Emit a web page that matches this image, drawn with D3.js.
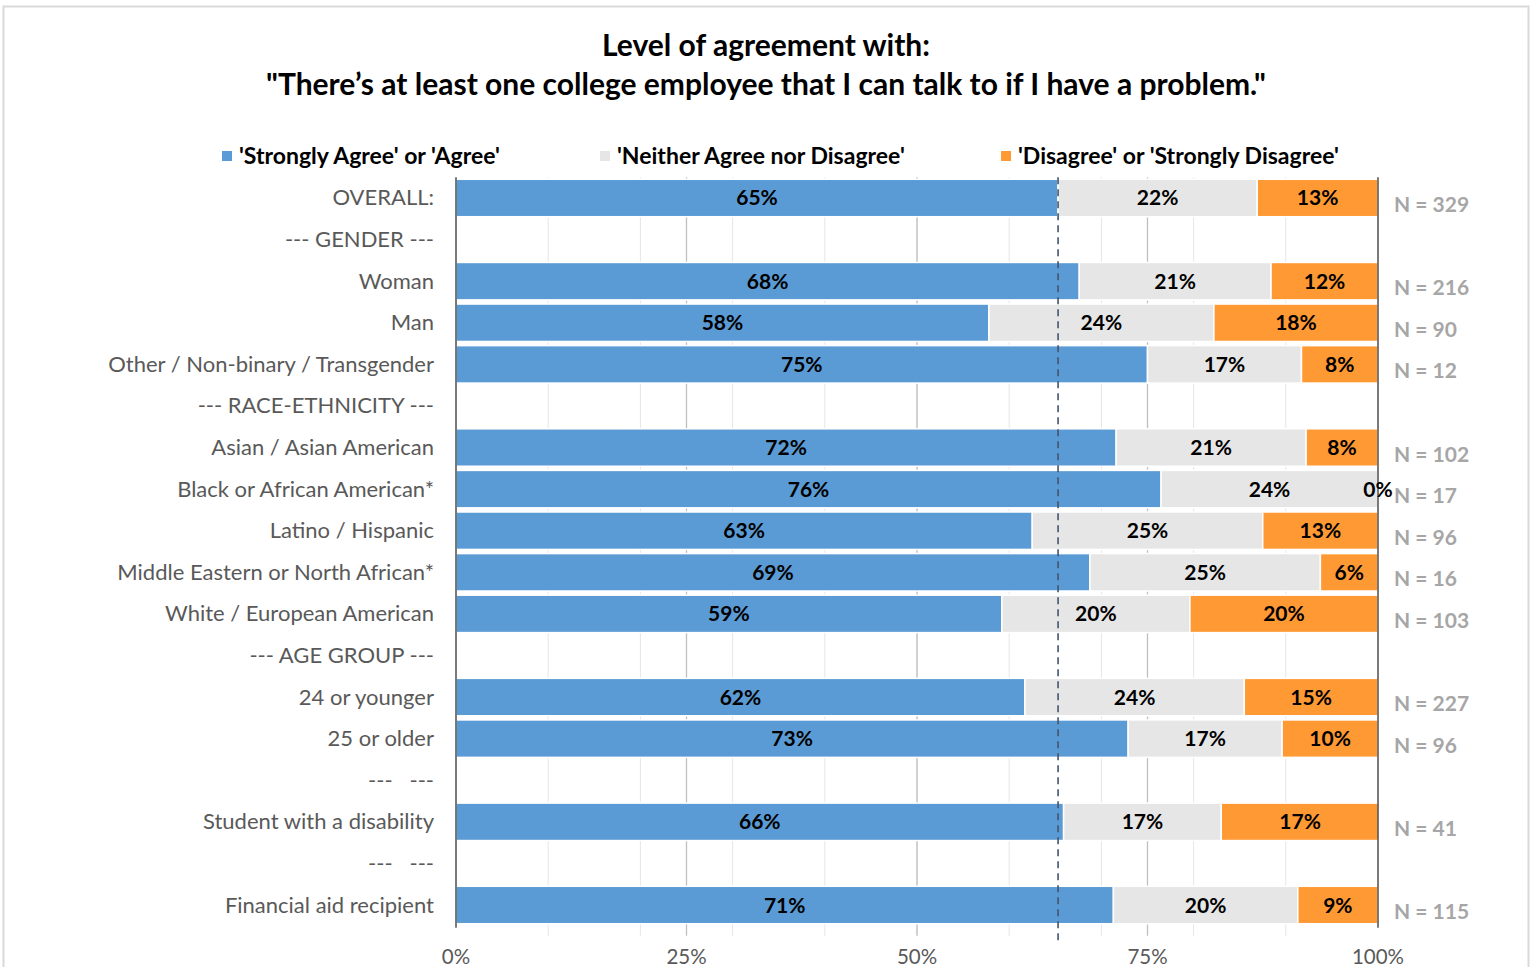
<!DOCTYPE html>
<html><head><meta charset="utf-8">
<script src="https://cdn.jsdelivr.net/npm/d3@7"></script>
<style>html,body{margin:0;padding:0;background:#fff;overflow:hidden}</style>
</head><body>
<svg id="c" width="1536" height="967"></svg>
<script>
const categories = ["OVERALL:","--- GENDER ---","Woman","Man","Other / Non-binary / Transgender","--- RACE-ETHNICITY ---","Asian / Asian American","Black or African American*","Latino / Hispanic","Middle Eastern or North African*","White / European American","--- AGE GROUP ---","24 or younger","25 or older","---   ---","Student with a disability","---   ---","Financial aid recipient"];
const agree    = [65.3,null,67.6,57.8,75.0,null,71.6,76.47,62.5,68.75,59.2,null,61.7,72.9,null,65.9,null,71.3];
const neither  = [21.6,null,20.8,24.4,16.7,null,20.6,23.53,25.0,25.0,20.4,null,23.8,16.7,null,17.1,null,20.0];
const disagree = [13.1,null,11.6,17.8,8.3,null,7.8,0.0,12.5,6.25,20.4,null,14.5,10.4,null,17.1,null,8.7];
const nCounts  = [329,null,216,90,12,null,102,17,96,16,103,null,227,96,null,41,null,115];
const seriesNames = ["'Strongly Agree' or 'Agree'","'Neither Agree nor Disagree'","'Disagree' or 'Strongly Disagree'"];
const xTicks = [0,25,50,75,100];
const titleLines = ["Level of agreement with:","\"There’s at least one college employee that I can talk to if I have a problem.\""];

const colors = ["#5B9BD5","#E7E6E6","#FF9933"];
const FONT = "Lato, 'Open Sans', sans-serif";
const svg = d3.select("#c");
svg.append("rect").attr("x",3.5).attr("y",6.5).attr("width",1525).attr("height",980).attr("fill","none").attr("stroke","#D9D9D9").attr("stroke-width",2);

const L=456, R=1378, T=177.2, B=925.8;
const x = d3.scaleLinear().domain([0,100]).range([L,R]);
const y = d3.scaleBand().domain(d3.range(categories.length)).range([T,B]).paddingInner(0.1).paddingOuter(0.05);

// title
svg.append("g").selectAll("text").data(titleLines).join("text")
  .attr("x",766).attr("y",(d,i)=>56+i*39).attr("text-anchor","middle")
  .attr("font-family",FONT).attr("font-weight","bold").attr("font-size",30).attr("fill","#000").text(d=>d);

// legend
const legX=[222,600,1001];
const lg = svg.append("g").selectAll("g").data(seriesNames).join("g").attr("transform",(d,i)=>`translate(${legX[i]},151)`);
lg.append("rect").attr("width",10).attr("height",10).attr("fill",(d,i)=>colors[i]);
lg.append("text").attr("x",17).attr("y",13).attr("font-family",FONT).attr("font-weight","bold").attr("font-size",23).attr("fill","#000").text(d=>d);

// gridlines
const minor = d3.range(10,100,10);
svg.append("g").selectAll("line").data(minor).join("line")
  .attr("x1",d=>x(d)).attr("x2",d=>x(d)).attr("y1",T).attr("y2",B+10).attr("stroke","#E6E6E6").attr("stroke-width",1);
svg.append("g").selectAll("line").data([25,50,75]).join("line")
  .attr("x1",d=>x(d)).attr("x2",d=>x(d)).attr("y1",T).attr("y2",B+10).attr("stroke","#BFBFBF").attr("stroke-width",1.3);

// bars
const rows = categories.map((c,i)=>({i, vals:[agree[i],neither[i],disagree[i]], n:nCounts[i]}));
const segs = [];
rows.forEach(r=>{ if(r.vals[0]==null) return; let acc=0; r.vals.forEach((v,k)=>{segs.push({i:r.i,k,x0:acc,x1:acc+v,v}); acc+=v;}); });
const bh = y.bandwidth();
svg.append("g").selectAll("rect").data(segs.filter(s=>s.v>0)).join("rect")
  .attr("x",s=>x(s.x0)).attr("width",s=>x(s.x1)-x(s.x0)).attr("y",s=>y(s.i)).attr("height",bh)
  .attr("fill",s=>colors[s.k]).attr("stroke","#fff").attr("stroke-width",1.5);

// dashed reference line at overall agree
svg.append("line").attr("x1",x(agree[0])).attr("x2",x(agree[0])).attr("y1",T).attr("y2",942)
  .attr("stroke","#44546A").attr("stroke-width",1.6).attr("stroke-dasharray","7,5");

// axes lines
svg.append("line").attr("x1",L).attr("x2",L).attr("y1",T).attr("y2",B+2).attr("stroke","#595959").attr("stroke-width",1.6);
svg.append("line").attr("x1",R).attr("x2",R).attr("y1",T).attr("y2",B+2).attr("stroke","#595959").attr("stroke-width",1.6);

// segment labels
const fmt = v=>Math.round(v)+"%";
svg.append("g").selectAll("text").data(segs).join("text")
  .attr("x",s=> s.v>0 ? (x(s.x0)+x(s.x1))/2 : x(s.x0))
  .attr("y",s=>y(s.i)+bh/2+7.5).attr("text-anchor","middle")
  .attr("font-family",FONT).attr("font-weight","bold").attr("font-size",21).attr("fill","#000").text(s=>fmt(s.v));

// N labels
svg.append("g").selectAll("text").data(rows.filter(r=>r.n!=null)).join("text")
  .attr("x",1394).attr("y",r=>y(r.i)+bh/2+14)
  .attr("font-family",FONT).attr("font-weight","bold").attr("font-size",21).attr("fill","#A6A6A6").text(r=>"N = "+r.n);

// category labels
svg.append("g").selectAll("text").data(categories).join("text")
  .attr("x",434).attr("y",(d,i)=>y(i)+bh/2+7.5).attr("text-anchor","end")
  .attr("font-family",FONT).attr("font-size",22).attr("fill","#595959").attr("xml:space","preserve").style("white-space","pre").text(d=>d);

// x axis labels
svg.append("g").selectAll("text").data(xTicks).join("text")
  .attr("x",d=>x(d)).attr("y",964).attr("text-anchor","middle")
  .attr("font-family",FONT).attr("font-size",20.5).attr("fill","#595959").text(d=>d+"%");
</script>
</body></html>
